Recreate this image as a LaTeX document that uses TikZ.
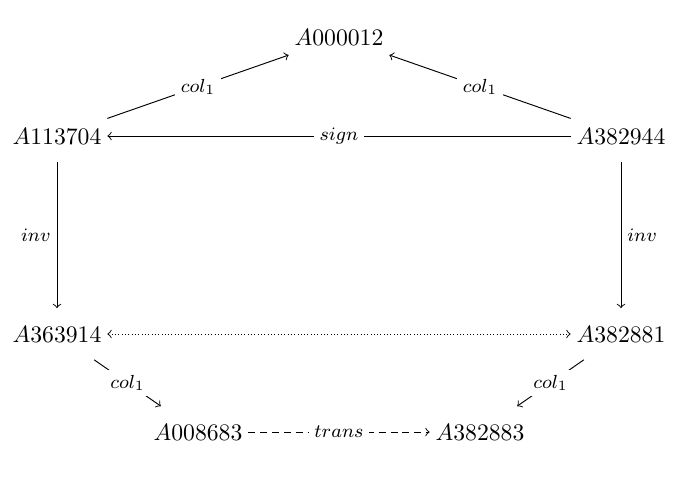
\documentclass[tikz,border=0pt]{standalone}
\begin{document}
\begin{tikzpicture}[x=0.422pt,y=-0.422pt,
  obj/.style={inner xsep=2.3pt,inner ysep=7.3pt,font=\fontsize{10.4}{12}\selectfont},
  lab/.style={font=\footnotesize,inner sep=2.5pt},
  desc/.style={lab,fill=white,inner sep=2.3pt,anchor=center},
  arr/.style={->,line width=0.4pt}]
\useasboundingbox (0,0) rectangle (682,480);
\node[obj] (a12) at (339,37.5) {$A000012$};
\node[obj] (a113) at (57,136) {$A113704$};
\node[obj] (a944) at (621,136) {$A382944$};
\node[obj] (a363) at (57,334) {$A363914$};
\node[obj] (a881) at (621,334) {$A382881$};
\node[obj] (a008) at (198,432) {$A008683$};
\node[obj] (a883) at (480,432) {$A382883$};
\draw[arr] (a113) -- node[desc] {$col_1$} (a12);
\draw[arr] (a944) -- node[desc] {$col_1$} (a12);
\draw[arr] (a944) -- node[desc] {$sign$} (a113);
\draw[arr] (a113) -- node[lab,left] {$inv$} (a363);
\draw[arr] (a944) -- node[lab,right] {$inv$} (a881);
\draw[<->,densely dotted,line width=0.4pt] (a363) -- (a881);
\draw[arr] (a363) -- node[desc] {$col_1$} (a008);
\draw[arr] (a881) -- node[desc] {$col_1$} (a883);
\draw[arr,densely dashed] (a008) -- node[desc] {$trans$} (a883);
\end{tikzpicture}
\end{document}
